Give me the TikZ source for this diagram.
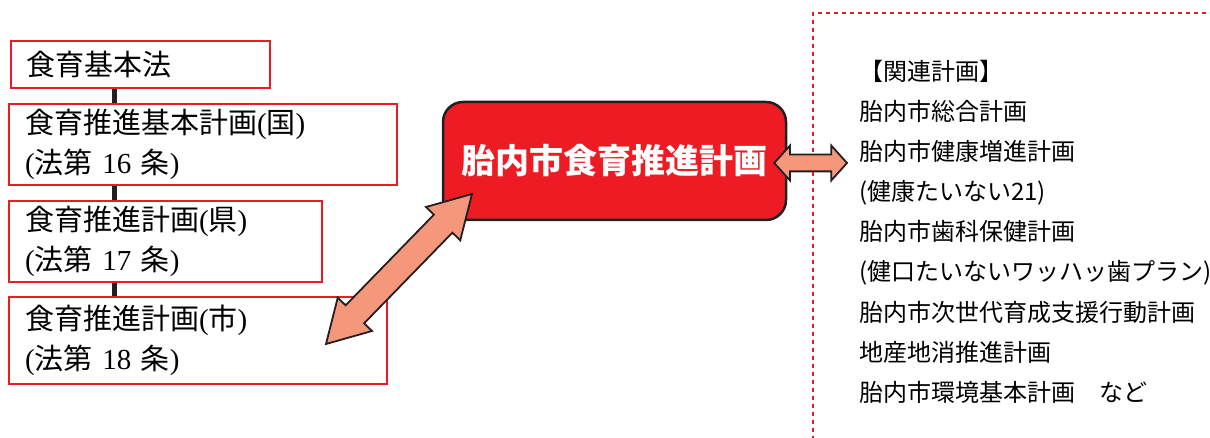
\documentclass[tikz,border=0pt]{standalone}
\usepackage{fontspec}
\setmainfont{Liberation Serif}
\newfontfamily\jp{Noto Sans CJK JP}
\usetikzlibrary{shapes.arrows,calc}
\definecolor{planred}{HTML}{ED1C24}
\definecolor{inkgray}{HTML}{231F20}
\definecolor{arrowpink}{HTML}{F4977B}

\begin{document}
\begin{tikzpicture}[x=1pt, y=-1pt,
  lawbox/.style={draw=planred, line width=2pt, anchor=north west,
                 inner xsep=16pt, inner ysep=0pt, align=left,
                 font=\fontsize{29}{40}\selectfont},
  mainbox/.style={draw=inkgray, fill=planred, line width=2.5pt,
                  rounded corners=20pt, text=white,
                  minimum width=343pt, minimum height=118pt,
                  font=\jp\bfseries\fontsize{34}{40}\selectfont},
  fatarrow/.style={double arrow, draw=inkgray, fill=arrowpink,
                   line width=1.8pt, sloped},
  linkbar/.style={inkgray, line width=5pt},
  relframe/.style={planred, line width=2pt, dash pattern=on 4pt off 4pt},
  relitem/.style={anchor=base west, inner sep=0pt,
                  font=\jp\fontsize{24}{40}\selectfont},
  ]
\useasboundingbox (0,0) rectangle (1210,438);

% law / plan chain
\node[lawbox, text width=227pt, minimum height=47pt] (basiclaw) at (10,40)
  {\jp 食育基本法};
\node[lawbox, text width=356pt, minimum height=81pt] (nationplan) at (8,103)
  {{\jp 食育推進基本計画}({\jp 国})\\({\jp 法第} 16 {\jp 条})};
\node[lawbox, text width=281pt, minimum height=81pt] (prefplan) at (8,200)
  {{\jp 食育推進計画}({\jp 県})\\({\jp 法第} 17 {\jp 条})};
\node[lawbox, text width=346pt, minimum height=87pt] (localplan) at (8,296)
  {{\jp 食育推進計画}({\jp 市})\\({\jp 法第} 18 {\jp 条})};

\coordinate (spine) at (114,0);
\draw[linkbar] (basiclaw.south -| spine) -- (nationplan.north -| spine);
\draw[linkbar] (nationplan.south -| spine) -- (prefplan.north -| spine);
\draw[linkbar] (prefplan.south -| spine) -- (localplan.north -| spine);

\node[mainbox] (cityplan) at (614.5,161) {胎内市食育推進計画};

% related plans
\draw[relframe] (813,480) -- (813,13) -- (1260,13);
\foreach \plan [count=\i] in {【関連計画】, 胎内市総合計画, 胎内市健康増進計画,
    (健康たいない21), 胎内市歯科保健計画, (健口たいないワッハッ歯プラン),
    胎内市次世代育成支援行動計画, 地産地消推進計画, 胎内市環境基本計画　など}
  \node[relitem] (rel\i) at (859,{81+40*(\i-1)}) {\plan};

% arrows
\coordinate (lowtip) at (326,344);
\coordinate (hightip) at (472,194);
\path let \p1=($(hightip)-(lowtip)$), \n1={veclen(\x1,\y1)} in
  (lowtip) -- node[fatarrow, minimum height=\n1, inner sep=12pt,
                   double arrow head extend=11pt,
                   double arrow tip angle=60] (linkarrow) {} (hightip);

\coordinate (lefttip) at ($(cityplan.east)+(-13,2)$);
\coordinate (relin) at (847,163);
\path let \p1=($(relin)-(lefttip)$), \n1={veclen(\x1,\y1)} in
  (lefttip) -- node[fatarrow, minimum height=\n1, inner sep=7.5pt,
                    double arrow head extend=9pt,
                    double arrow tip angle=96] (relarrow) {} (relin);
\end{tikzpicture}
\end{document}
